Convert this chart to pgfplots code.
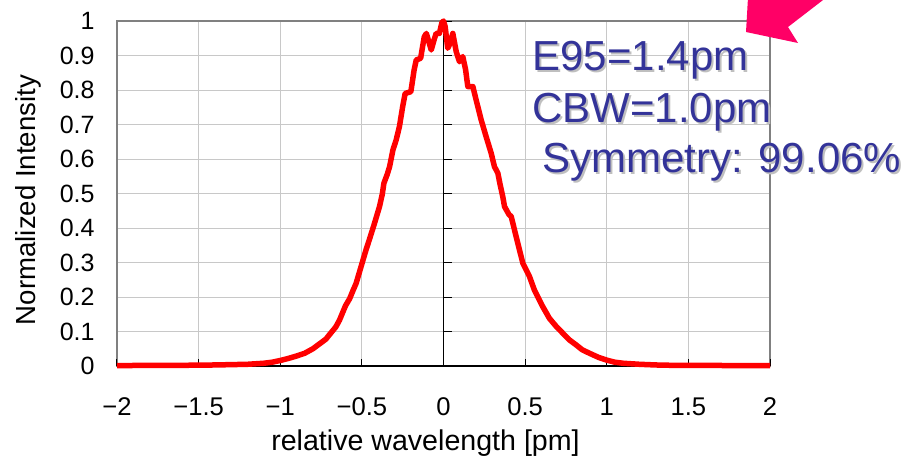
\documentclass[border=0pt]{standalone}
\usepackage{pgfplots}
\pgfplotsset{compat=1.18}
\usepackage{fontspec}
\setmainfont{Liberation Sans}
\definecolor{annblue}{HTML}{333399}
\definecolor{arrowpink}{HTML}{FF0066}
\definecolor{gridgray}{HTML}{C8C8C8}
\definecolor{framegray}{HTML}{808080}
\begin{document}
\begin{tikzpicture}
\path[use as bounding box, clip] (-58.5pt,-45pt) rectangle (393pt,183pt);
\begin{axis}[
  at={(0pt,0pt)}, anchor=south west,
  scale only axis, width=326.5pt, height=172.5pt,
  xmin=-2, xmax=2, ymin=0, ymax=1,
  xtick={-2,-1.5,-1,-0.5,0,0.5,1,1.5,2},
  xticklabels={−2,−1.5,−1,−0.5,0,0.5,1,1.5,2},
  ytick={0,0.1,0.2,0.3,0.4,0.5,0.6,0.7,0.8,0.9,1},
  yticklabels={0,0.1,0.2,0.3,0.4,0.5,0.6,0.7,0.8,0.9,1},
  major tick length=0pt,
  grid=major, major grid style={gridgray, line width=0.5pt},
  axis line style={framegray, line width=1pt},
  xticklabel style={font=\fontsize{12.8}{15}\selectfont, anchor=center, inner sep=0pt, yshift=-20.5pt},
  yticklabel style={font=\fontsize{12.5}{15}\selectfont, anchor=east, inner sep=0pt, xshift=-11pt},
  xlabel={relative wavelength [pm]},
  ylabel={Normalized Intensity},
  xlabel style={font=\fontsize{14.3}{17}\selectfont, at={(axis description cs:0.5,0)}, anchor=center, inner sep=0pt, yshift=-38.5pt, xshift=-9pt},
  ylabel style={font=\fontsize{13.8}{17}\selectfont, at={(axis description cs:-0.1363,0.4812)}, anchor=center, inner sep=0pt},
  clip=false,
]
\draw[black, line width=0.5pt] (axis cs:0,0) -- (axis cs:0,1);
\pgfplotsinvokeforeach{0.1,0.2,0.3,0.4,0.5,0.6,0.7,0.8,0.9,1}{
  \draw[black, line width=0.5pt] (axis cs:0,#1) -- ++(4.5pt,0pt);
}
\draw[black, line width=0.8pt] (axis cs:-2,0) -- (axis cs:2,0);
\pgfplotsinvokeforeach{-2,-1.5,-1,-0.5,0.5,1,1.5,2}{
  \draw[black, line width=0.5pt] (axis cs:#1,0) -- ++(0pt,3.5pt);
}
\addplot[red, line width=2.75pt, line join=round, mark=none] table {
x y
-2.0 0.001
-1.8 0.002
-1.6 0.002
-1.4 0.003
-1.3 0.004
-1.2 0.005
-1.1 0.008
-1.05 0.011
-1.0 0.016
-0.95 0.022
-0.9 0.029
-0.85 0.037
-0.8 0.050
-0.76 0.064
-0.72 0.078
-0.70 0.090
-0.66 0.113
-0.637 0.133
-0.60 0.175
-0.575 0.195
-0.555 0.218
-0.535 0.240
-0.505 0.288
-0.475 0.336
-0.455 0.365
-0.425 0.410
-0.392 0.462
-0.375 0.498
-0.365 0.530
-0.345 0.555
-0.33 0.578
-0.31 0.626
-0.29 0.655
-0.27 0.694
-0.25 0.752
-0.235 0.790
-0.20 0.795
-0.18 0.858
-0.167 0.887
-0.14 0.892
-0.118 0.954
-0.105 0.964
-0.09 0.940
-0.075 0.916
-0.058 0.945
-0.045 0.964
-0.025 0.964
-0.01 0.995
0.0 1.0
0.01 0.984
0.026 0.921
0.04 0.935
0.057 0.964
0.078 0.911
0.098 0.882
0.118 0.897
0.135 0.860
0.149 0.810
0.18 0.810
0.20 0.771
0.231 0.713
0.261 0.665
0.292 0.617
0.312 0.578
0.333 0.559
0.345 0.530
0.363 0.491
0.374 0.462
0.40 0.440
0.415 0.433
0.445 0.375
0.486 0.298
0.527 0.259
0.557 0.220
0.608 0.172
0.649 0.138
0.69 0.115
0.731 0.095
0.77 0.076
0.813 0.061
0.85 0.047
0.894 0.037
0.95 0.025
1.0 0.017
1.05 0.011
1.1 0.008
1.2 0.005
1.3 0.003
1.4 0.002
1.6 0.002
1.8 0.001
2.0 0.001
};
\end{axis}
\begin{scope}[every node/.style={anchor=base west, inner sep=0pt, font=\fontsize{21}{25}\selectfont}]
\node[text=black!25] at (208.5pt,146.5pt) {E95=1.4pm};
\node[text=annblue] at (207.5pt,147.5pt) {E95=1.4pm};
\node[text=black!25] at (208.5pt,121pt) {CBW=1.0pm};
\node[text=annblue] at (207.5pt,122pt) {CBW=1.0pm};
\node[text=black!25] at (213.5pt,96pt) {Symmetry: 99.06\%};
\node[text=annblue] at (212.5pt,97pt) {Symmetry: 99.06\%};
\end{scope}
\fill[arrowpink] (316pt,193pt) -- (314.5pt,167pt) -- (340.5pt,161.5pt) -- (335.5pt,169.5pt) -- (366pt,193pt) -- cycle;
\end{tikzpicture}
\end{document}
